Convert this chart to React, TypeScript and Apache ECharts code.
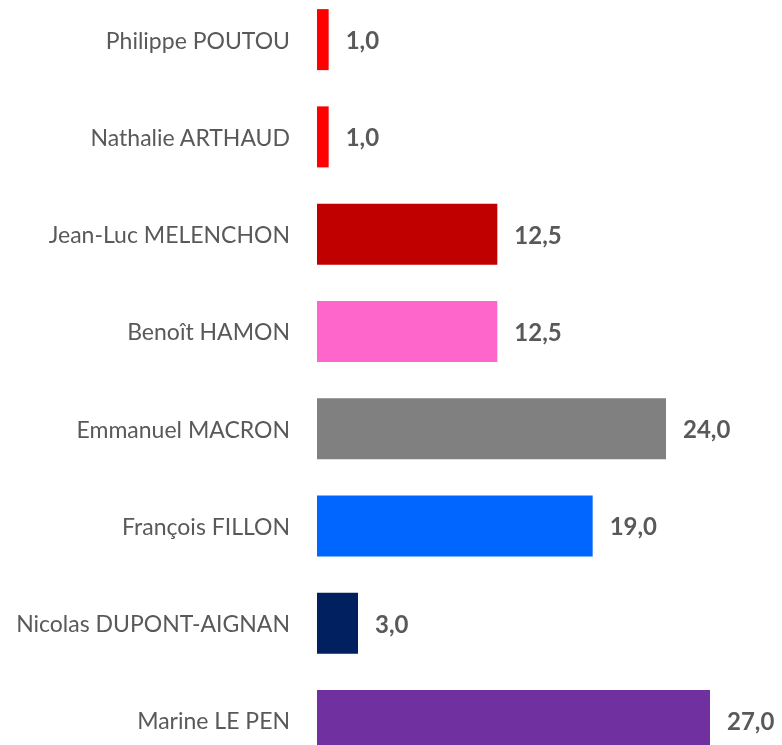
import React, { useEffect, useRef } from "react";
import * as echarts from "echarts";

const candidates = [
  "Philippe POUTOU",
  "Nathalie ARTHAUD",
  "Jean-Luc MELENCHON",
  "Benoît HAMON",
  "Emmanuel MACRON",
  "François FILLON",
  "Nicolas DUPONT-AIGNAN",
  "Marine LE PEN",
];
const scores = [1.0, 1.0, 12.5, 12.5, 24.0, 19.0, 3.0, 27.0];
const colors = ["#FF0000", "#FF0000", "#C00000", "#FF66CC", "#808080", "#0066FF", "#002060", "#7030A0"];

export default function App() {
  const ref = useRef<HTMLDivElement>(null);
  useEffect(() => {
    if (!ref.current) return;
    const chart = echarts.init(ref.current, null, { renderer: "svg" });
    chart.setOption({
      animation: false,
      grid: { left: 314, right: 28, top: 0, bottom: 0, containLabel: false },
      xAxis: {
        type: "value",
        min: 0,
        max: 30,
        show: false,
      },
      yAxis: {
        type: "category",
        inverse: true,
        data: candidates,
        axisLine: { show: true, lineStyle: { color: "#FFFFFF", width: 6 } },
        axisTick: { show: false },
        axisLabel: {
          margin: 24,
          color: "#595959",
          fontFamily: "Lato",
          fontSize: 23,
        },
        z: 10,
      },
      series: [
        {
          type: "bar",
          barWidth: 61,
          data: scores.map((v, i) => ({ value: v, itemStyle: { color: colors[i] } })),
          label: {
            show: true,
            position: "right",
            distance: 17,
            color: "#595959",
            fontFamily: "Lato",
            fontWeight: "bold",
            fontSize: 24,
            formatter: (p: any) => p.value.toFixed(1).replace(".", ","),
          },
        },
      ],
    });
    return () => chart.dispose();
  }, []);
  return (
    <div
      ref={ref}
      style={{ position: "fixed", left: 0, top: -9, width: 782, height: 778 }}
    />
  );
}
